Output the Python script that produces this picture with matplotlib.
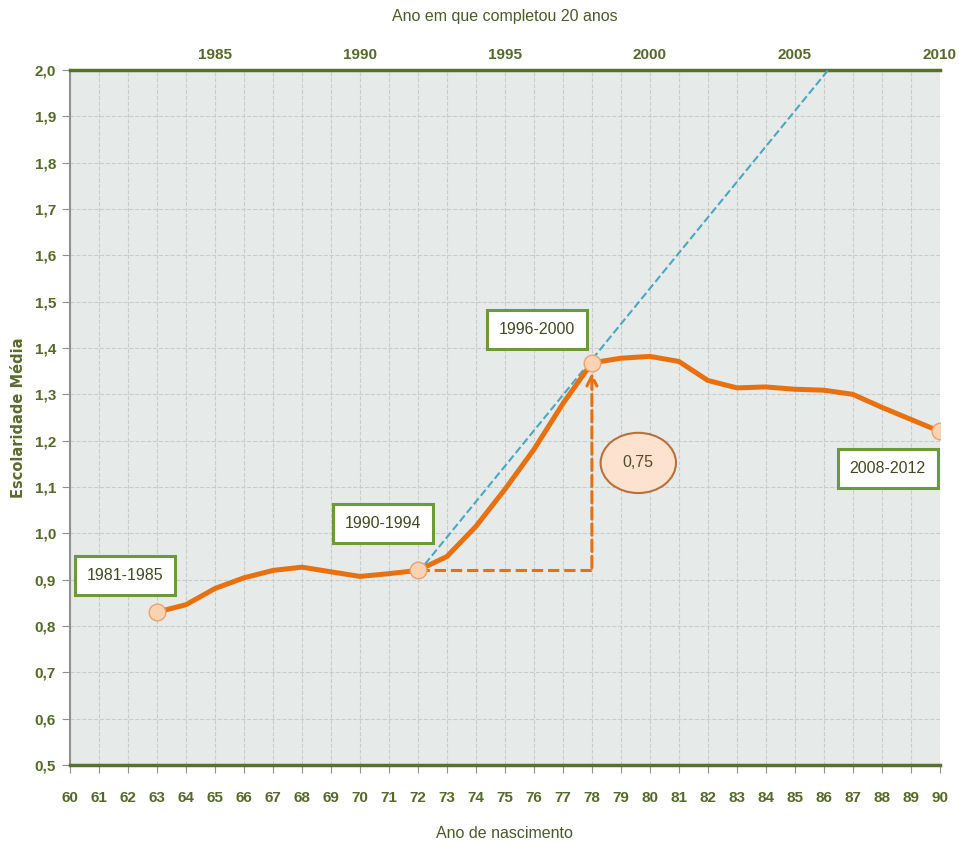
import numpy as np
import matplotlib
matplotlib.use("Agg")
import matplotlib.pyplot as plt
from matplotlib.patches import Ellipse

# data
anos = list(range(63, 91))
escolaridade = [0.830, 0.846, 0.881, 0.904, 0.920, 0.927, 0.917, 0.907, 0.913, 0.920,
                0.950, 1.015, 1.095, 1.181, 1.280, 1.368, 1.378, 1.382, 1.371, 1.330,
                1.314, 1.316, 1.311, 1.309, 1.300, 1.272, 1.246, 1.220]
destaque_x = [63, 72, 78, 90]
periodos = ["1981-1985", "1990-1994", "1996-2000", "2008-2012"]
periodo_pos = [(61.9, 0.91), (70.8, 1.022), (76.1, 1.439), (88.2, 1.139)]
tendencia_x = [72, 86.15]
tendencia_y = [0.915, 2.0]
seta_x = 78
diferenca = "0,75"

plt.rcParams['font.family'] = ['Liberation Sans', 'DejaVu Sans']
verde = '#56692b'
laranja = '#e8700e'

fig = plt.figure(figsize=(9.59, 8.44), dpi=100)
ax = fig.add_axes([0.073, 0.0936, 0.907, 0.8234])
ax.set_facecolor('#e6eae8')

ax.plot(anos, escolaridade, color=laranja, lw=3.6, solid_capstyle='round', zorder=4)
yd = [escolaridade[anos.index(a)] for a in destaque_x]
ax.plot(destaque_x, yd, 'o', ms=12, mfc='#fcd3b2', mec='#f0a070', mew=1, zorder=5)

# linha de tendencia (azul) a partir de 72
ax.plot(tendencia_x, tendencia_y, '--', color='#4aa8c0', lw=1.5, zorder=3)

# setas laranja tracejadas
y0 = escolaridade[anos.index(72)]
y1 = escolaridade[anos.index(seta_x)]
ax.plot([72, seta_x], [y0, y0], '--', color=laranja, lw=2.2, zorder=3)
ax.annotate('', xy=(seta_x, y1 - 0.015), xytext=(seta_x, y0),
            arrowprops=dict(arrowstyle='->', ls='--', color=laranja, lw=2.2,
                            mutation_scale=18), zorder=3)

ax.add_patch(Ellipse((79.6, 1.152), 2.6, 0.13, fc='#fde3cf', ec='#b8703c', lw=1.5, zorder=6))
ax.text(79.6, 1.152, diferenca, ha='center', va='center', fontsize=11.5, color='#5a4a2a', zorder=7)

for txt, (px, py) in zip(periodos, periodo_pos):
    ax.text(px, py, txt, ha='center', va='center', fontsize=11.5, color='#3f4a22', zorder=8,
            bbox=dict(boxstyle='square,pad=0.75', fc='white', ec='#6a9a3a', lw=2.2))

ax.set_xlim(60, 90)
ax.set_ylim(0.5, 2.0)
ax.set_xticks(range(60, 91))
ax.set_yticks(np.arange(0.5, 2.01, 0.1))
ax.set_yticklabels([f"{v:.1f}".replace('.', ',') for v in np.arange(0.5, 2.01, 0.1)])
ax.grid(True, color='#c8cccb', ls='--', lw=0.8)
ax.set_axisbelow(True)

for lab in ax.get_xticklabels() + ax.get_yticklabels():
    lab.set_color(verde)
    lab.set_fontweight('bold')
    lab.set_fontsize(11)
ax.tick_params(axis='x', colors='#909090', length=6, pad=13, labelcolor=verde)
ax.tick_params(axis='y', colors='#909090', length=6, pad=4, labelcolor=verde)

ax.spines['right'].set_visible(False)
ax.spines['left'].set_color('#909090')
ax.spines['left'].set_linewidth(1.5)
ax.spines['bottom'].set_color('#5a7030')
ax.spines['bottom'].set_linewidth(2.5)
ax.spines['top'].set_color('#5a7030')
ax.spines['top'].set_linewidth(2.5)

ax.set_xlabel('Ano de nascimento', fontsize=11.5, color='#4a5a2a', labelpad=15)
ax.set_ylabel('Escolaridade Média', fontsize=10.5, color='#5a6b30', fontweight='bold',
              family='DejaVu Sans', labelpad=6)

top = ax.secondary_xaxis('top', functions=(lambda x: x + 1920, lambda x: x - 1920))
top.set_xticks(range(1985, 2011, 5))
top.tick_params(length=0, pad=6, labelcolor=verde)
for lab in top.get_xticklabels():
    lab.set_fontweight('bold')
    lab.set_fontsize(11)
top.spines['top'].set_visible(False)
top.set_xlabel('Ano em que completou 20 anos', fontsize=11.5, color='#4a5a2a', labelpad=19)

fig.savefig('out.png', dpi=100)
